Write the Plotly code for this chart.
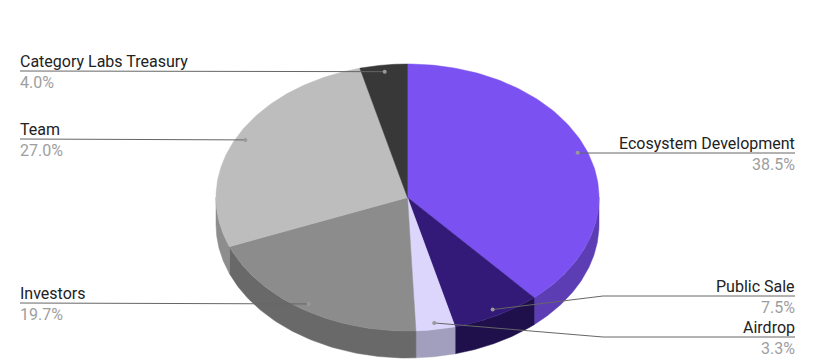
import numpy as np
import plotly.graph_objects as go

labels = ["Ecosystem Development", "Public Sale", "Airdrop", "Investors", "Team", "Category Labs Treasury"]
values = [38.5, 7.5, 3.3, 19.7, 27.0, 4.0]
top_colors = ["#7b52f1", "#331a78", "#dcd6fd", "#8c8c8c", "#bdbdbd", "#383838"]
side_colors = ["#5c3db4", "#1f104c", "#a29ebd", "#696969", "#8d8d8d", "#2a2a2a"]

W, H = 818, 361
CX, CY, RX, RY, DEPTH = 407.5, 197.5, 191.5, 133.5, 27

def pt(t, r=1.0, dy=0.0):
    return CX + RX * r * np.sin(t), CY - RY * r * np.cos(t) + dy

fig = go.Figure()
total = sum(values)
cum = np.concatenate([[0], np.cumsum(values)]) / total * 2 * np.pi

# side walls (front half only)
for i in range(len(values)):
    a0, a1 = max(cum[i], np.pi / 2), min(cum[i + 1], 3 * np.pi / 2)
    if a1 <= a0:
        continue
    t = np.linspace(a0, a1, 80)
    xt, yt = pt(t)
    xb, yb = pt(t[::-1], dy=DEPTH)
    fig.add_trace(go.Scatter(x=np.concatenate([xt, xb, xt[:1]]), y=np.concatenate([yt, yb, yt[:1]]),
                             mode="lines", fill="toself", fillcolor=side_colors[i],
                             line=dict(width=0.5, color=side_colors[i]), hoverinfo="skip", showlegend=False))

# top faces
for i in range(len(values)):
    t = np.linspace(cum[i], cum[i + 1], 120)
    xs, ys = pt(t)
    fig.add_trace(go.Scatter(x=np.concatenate([[CX], xs, [CX]]), y=np.concatenate([[CY], ys, [CY]]),
                             mode="lines", fill="toself", fillcolor=top_colors[i],
                             line=dict(width=0.5, color=top_colors[i]), name=labels[i],
                             hoverinfo="name", showlegend=False))

# leader lines and labels
label_cfg = {
    "Ecosystem Development": dict(side="right", y=153),
    "Public Sale": dict(side="right", y=296, elbow=603),
    "Airdrop": dict(side="right", y=337, elbow=603),
    "Investors": dict(side="left", y=303),
    "Team": dict(side="left", y=139),
    "Category Labs Treasury": dict(side="left", y=71),
}
dots_x, dots_y = [], []
for i, lab in enumerate(labels):
    mid = (cum[i] + cum[i + 1]) / 2
    dx, dy = pt(mid, r=0.95)
    dots_x.append(dx); dots_y.append(dy)
    cfg = label_cfg[lab]
    ly = cfg["y"]
    if cfg["side"] == "left":
        lx, ly_ = [20, dx], [ly, dy]
        xa, anchor = 19, "left"
    else:
        if "elbow" in cfg:
            lx, ly_ = [dx, cfg["elbow"], 795], [dy, ly, ly]
        else:
            lx, ly_ = [dx, 795], [ly, ly]
        xa, anchor = 796, "right"
    fig.add_trace(go.Scatter(x=lx, y=ly_, mode="lines", line=dict(color="#666666", width=1),
                             hoverinfo="skip", showlegend=False))
    fig.add_annotation(x=xa, y=ly + 1, text=lab, showarrow=False, xanchor=anchor, yanchor="bottom",
                       borderpad=0, font=dict(family="Roboto", size=16, color="#222222"))
    fig.add_annotation(x=xa, y=ly + 1, text=f"{values[i]:.1f}%", showarrow=False, xanchor=anchor,
                       yanchor="top", borderpad=0, font=dict(family="Roboto", size=16, color="#9e9e9e"))

fig.add_trace(go.Scatter(x=dots_x, y=dots_y, mode="markers", marker=dict(size=4, color="#999999"),
                         hoverinfo="skip", showlegend=False))

fig.update_layout(
    width=W, height=H, margin=dict(l=0, r=0, t=0, b=0),
    paper_bgcolor="white", plot_bgcolor="white",
    xaxis=dict(range=[0, W], visible=False, fixedrange=True),
    yaxis=dict(range=[H, 0], visible=False, fixedrange=True),
)
fig.write_html("out.html")
